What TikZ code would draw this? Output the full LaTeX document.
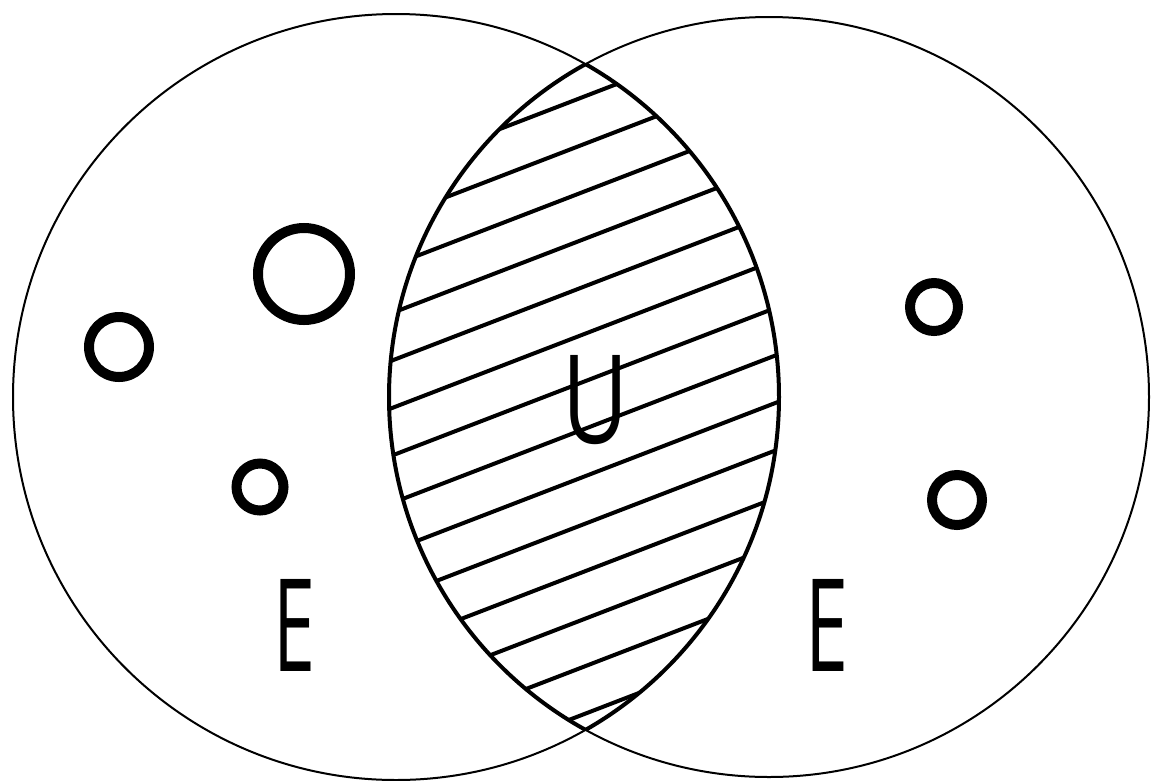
\documentclass[tikz,border=0pt]{standalone}
\usepackage{fontspec}
\setmainfont{Open Sans}
\usepackage{graphicx}
\begin{document}
\begin{tikzpicture}[x=1pt,y=-1pt,
  outer/.style={line width=2pt},
  lens/.style={line width=4pt},
  hatch/.style={line width=4pt},
  ring/.style={line width=10pt},
  lbl/.style={inner sep=0pt, anchor=south west}]
\useasboundingbox (0,0) rectangle (1152,780);
\coordinate (L) at (396,397);
\coordinate (R) at (769,397);
\def\rl{383}
\def\rr{380}
% hatching of the intersection
\begin{scope}
  \clip (L) circle (\rl);
  \clip (R) circle (\rr);
  \foreach \k in {0,...,13} {
    \pgfmathsetmacro\bb{97+47.5*\k}
    \draw[hatch] (370,{\bb+82}) -- (800,{\bb-83.5});
  }
\end{scope}
% lens boundary
\begin{scope}
  \clip (R) circle (\rr);
  \draw[lens] (L) circle (\rl);
\end{scope}
\begin{scope}
  \clip (L) circle (\rl);
  \draw[lens] (R) circle (\rr);
\end{scope}
% outer circles
\draw[outer] (L) circle (\rl);
\draw[outer] (R) circle (\rr);
% small rings
\draw[ring] (304,274) circle (46);
\draw[ring] (119,347) circle (30);
\draw[ring] (260,487) circle (23.5);
\draw[ring] (934,307) circle (24);
\draw[ring] (957,500) circle (25);
% labels
\node[lbl] (eleft) at (273,672) {\resizebox{42pt}{92pt}{E}};
\node[lbl] (eright) at (805,672) {\resizebox{43pt}{92pt}{E}};
\node[lbl] (u) at (562,445) {\resizebox{66pt}{88pt}{U}};
\end{tikzpicture}
\end{document}
